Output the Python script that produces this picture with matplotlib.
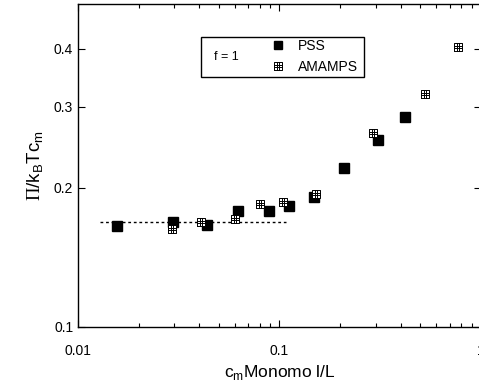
import numpy as np
import matplotlib.pyplot as plt
from matplotlib.path import Path
from matplotlib.patches import Rectangle
from matplotlib.ticker import LogLocator, FixedLocator, NullFormatter

plt.rcParams['font.family'] = ['Liberation Sans', 'DejaVu Sans']
plt.rcParams['mathtext.fontset'] = 'custom'
plt.rcParams['mathtext.rm'] = 'Liberation Serif'

# data
pss_x = [0.0156, 0.0295, 0.0436, 0.0619, 0.089, 0.112, 0.149, 0.21, 0.309, 0.421]
pss_y = [0.1655, 0.1688, 0.1663, 0.1783, 0.178, 0.1827, 0.191, 0.221, 0.254, 0.285]

amamps_x = [0.0293, 0.0406, 0.0598, 0.0796, 0.1035, 0.152, 0.292, 0.528, 0.769]
amamps_y = [0.163, 0.1688, 0.1713, 0.1846, 0.1865, 0.194, 0.263, 0.319, 0.404]

fit_x = [0.0129, 0.108]
fit_y = [0.169, 0.169]

yticks = [0.1, 0.2, 0.3, 0.4]

# square with a 3x3 grid inside
v = [(-1, -1), (1, -1), (1, 1), (-1, 1), (-1, -1)]
c = [Path.MOVETO] + [Path.LINETO] * 4
for t in (-1/3, 1/3):
    v += [(t, -1), (t, 1), (-1, t), (1, t)]
    c += [Path.MOVETO, Path.LINETO, Path.MOVETO, Path.LINETO]
grid_sq = Path(v, c)

fig = plt.figure(figsize=(4.79, 3.91), dpi=100)
ax = fig.add_axes([0.163, 0.1637, 0.841, 0.826])

ax.plot(fit_x, fit_y, color='black', linestyle=(0, (2, 2)), linewidth=1)
ax.plot(pss_x, pss_y, 's', color='black', markersize=6.5, linestyle='none', label='PSS')
ax.plot(amamps_x, amamps_y, marker=grid_sq, color='black', markerfacecolor='white',
        markersize=6, markeredgewidth=0.7, linestyle='none', label='AMAMPS')

ax.set_xscale('log')
ax.set_yscale('log')
ax.set_xlim(0.01, 1)
ax.set_ylim(0.1, 0.5)

ax.xaxis.set_major_locator(FixedLocator([0.01, 0.1, 1]))
ax.set_xticklabels(['0.01', '0.1', '1'])
ax.xaxis.set_minor_locator(LogLocator(base=10, subs=np.arange(2, 10)))
ax.xaxis.set_minor_formatter(NullFormatter())
ax.yaxis.set_major_locator(FixedLocator(yticks))
ax.set_yticklabels([str(t) for t in yticks])
ax.yaxis.set_minor_locator(FixedLocator([]))

ax.tick_params(which='both', direction='in', top=True, right=True, labelsize=10)
ax.tick_params(which='major', length=5, width=0.8)
ax.tick_params(which='minor', length=3, width=0.8)
ax.tick_params(axis='x', pad=12)
for s in ax.spines.values():
    s.set_linewidth(1)

ax.set_xlabel(r'c$_\mathregular{m}$Monomo l/L', fontsize=12.5)
ax.set_ylabel(r'$\Pi$/k$_\mathregular{B}$Tc$_\mathregular{m}$', fontsize=13.5, labelpad=6)

ax.add_patch(Rectangle((0.306, 0.774), 0.403, 0.124, transform=ax.transAxes,
                       fill=False, edgecolor='black', linewidth=1))
ax.text(0.338, 0.836, 'f = 1', transform=ax.transAxes, fontsize=9, va='center')
ax.legend(loc='upper left', bbox_to_anchor=(0.452, 0.922), frameon=False, fontsize=10,
          handletextpad=0.85, labelspacing=0.5, borderpad=0.2, handlelength=1.2,
          markerscale=0.9)

fig.savefig('out.png', dpi=100)
